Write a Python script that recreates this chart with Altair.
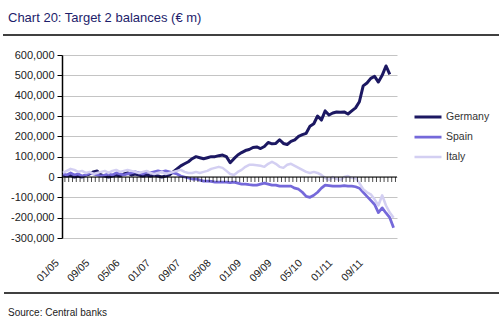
import altair as alt
import pandas as pd

title_text = "Chart 20: Target 2 balances (\u20ac m)"
source_text = "Source: Central banks"

series_names = ["Germany", "Spain", "Italy"]
series_colors = ["#1c1862", "#7569da", "#d3cff2"]
series_widths = [3, 2.5, 2.5]

tick_labels = ["01/05", "09/05", "05/06", "01/07", "09/07", "05/08",
               "01/09", "09/09", "05/10", "01/11", "09/11"]
y_ticks = [-300000, -200000, -100000, 0, 100000, 200000, 300000, 400000, 500000, 600000]

# monthly values, thousands of EUR m, Jan 2005 onward
germany = [10, 5, 8, 0, 5, 0, 10, 15, 25, 30,
           10, 5, 0, 5, 10, 5, 15, 20, 10, 15,
           10, 5, 10, 5, 10, 5, 0, 5, 10, 25,
           40, 55, 65, 75, 90, 100, 95, 90, 95, 100,
           100, 105, 108, 100, 70, 90, 108, 120, 130, 135,
           145, 148, 140, 150, 170, 163, 165, 183, 165, 160,
           175, 183, 200, 208, 215, 250, 262, 300, 280, 325,
           305, 315, 320, 318, 320, 310, 325, 340, 370, 448,
           462, 485, 495, 467, 500, 546, 505, None]
spain = [15, 10, 20, 10, 15, 5, 10, 20, 15, 10,
         5, 10, 15, 10, 20, 15, 10, 15, 20, 25,
         20, 15, 25, 20, 25, 30, 25, 30, 25, 20,
         15, 5, 0, -5, -10, -10, -15, -20, -20, -22,
         -25, -25, -25, -25, -28, -25, -30, -35, -35, -38,
         -40, -40, -35, -30, -35, -40, -40, -45, -45, -45,
         -45, -55, -60, -75, -95, -100, -90, -75, -55, -40,
         -42, -45, -45, -45, -42, -45, -45, -48, -55, -75,
         -95, -115, -135, -175, -152, -177, -200, -250]
italy = [20, 30, 40, 35, 25, 30, 20, 25, 15, 20,
         25, 30, 20, 30, 35, 25, 30, 35, 30, 25,
         20, 25, 30, 20, 15, 20, 25, 15, 20, 25,
         30, 35, 25, 20, 20, 25, 20, 25, 30, 40,
         45, 50, 45, 30, 15, 10, 25, 35, 50, 60,
         60, 58, 55, 50, 65, 75, 65, 50, 45, 60,
         65, 55, 45, 35, 25, 20, 25, 20, 10, -5,
         -15, 0, -10, -15, 0, 5, -5, -5, -30, -60,
         -75, -85, -110, -140, -90, -140, -175, -200]

rows = []
for name, vals in zip(series_names, [germany, spain, italy]):
    for i, v in enumerate(vals):
        if v is not None:
            rows.append({"month": i, "series": name, "value": v * 1000,
                         "order": series_names.index(name)})
df = pd.DataFrame(rows)
months_df = pd.DataFrame({"month": list(range(len(spain)))})

W, H = 335, 183
x_scale = alt.Scale(domain=[-0.26, 87.9], nice=False, zero=False)
y_scale = alt.Scale(domain=[-300000, 600000], nice=False)

label_arr = "[" + ",".join("'" + t + "'" for t in tick_labels) + "]"

x_axis = alt.Axis(values=[8 * k for k in range(len(tick_labels))],
                  labelExpr=label_arr + "[round(datum.value/8)]",
                  title=None, domain=False, ticks=False, grid=False,
                  labelAngle=-45, labelAlign="right", labelBaseline="middle",
                  labelPadding=23, labelOffset=-6, labelFontSize=10.5,
                  labelOverlap=False, labelBound=False, labelFlush=False,
                  labelColor="#222", labelFont="Liberation Sans")
y_axis = alt.Axis(values=y_ticks, title=None, grid=True, gridColor="#c4c4c4",
                  gridWidth=1, domainColor="#000", domainWidth=1.5,
                  tickColor="#000", tickSize=5, labelPadding=3,
                  labelOverlap=False, labelBound=False, labelFlush=False,
                  labelExpr="replace(format(datum.value, ','), '\u2212', '-')",
                  labelFontSize=11, labelColor="#222",
                  labelFont="Liberation Sans")

lines = alt.Chart(df).mark_line(strokeJoin="round").encode(
    x=alt.X("month:Q", scale=x_scale, axis=x_axis),
    y=alt.Y("value:Q", scale=y_scale, axis=y_axis),
    color=alt.Color("series:N",
                    scale=alt.Scale(domain=series_names, range=series_colors),
                    legend=alt.Legend(title=None, orient="none", legendX=351,
                                      legendY=55, symbolType="stroke",
                                      symbolSize=729, symbolStrokeWidth=3,
                                      labelFontSize=10.5, labelColor="#333",
                                      labelFont="Liberation Sans", rowPadding=6,
                                      clipHeight=14, labelOffset=3)),
    strokeWidth=alt.StrokeWidth("series:N",
                                scale=alt.Scale(domain=series_names, range=series_widths),
                                legend=None),
    order=alt.Order("order:Q"),
)

zero_line = alt.Chart(months_df).mark_rule(color="#000", strokeWidth=1.2).encode(
    y=alt.Y("value:Q", scale=y_scale, axis=y_axis),
).transform_calculate(value="0").transform_filter("datum.month == 0")

month_ticks = alt.Chart(months_df).mark_tick(
    color="#000", orient="vertical", size=5, thickness=1, yOffset=2.5
).encode(
    x=alt.X("month:Q", scale=x_scale, axis=x_axis),
    y=alt.Y("value:Q", scale=y_scale, axis=y_axis),
).transform_calculate(value="0", month="datum.month + 0.5")

text_df = pd.DataFrame({"t": [title_text]})
title_mark = alt.Chart(text_df).mark_text(
    align="left", baseline="alphabetic", fontSize=13, color="#1d1d6b",
    font="Liberation Sans"
).encode(text="t:N", x=alt.value(-54), y=alt.value(-33))

src_df = pd.DataFrame({"t": [source_text]})
source_mark = alt.Chart(src_df).mark_text(
    align="left", baseline="alphabetic", fontSize=10, color="#222",
    font="Liberation Sans"
).encode(text="t:N", x=alt.value(-54), y=alt.value(261))

top_rule = alt.Chart(text_df).mark_rule(color="#000", strokeWidth=1.5).encode(
    x=alt.value(-59), x2=alt.value(437), y=alt.value(-20))
bottom_rule = alt.Chart(text_df).mark_rule(color="#000", strokeWidth=1.5).encode(
    x=alt.value(-58), x2=alt.value(437), y=alt.value(238))

chart = alt.layer(
    lines, zero_line, month_ticks, title_mark, source_mark, top_rule, bottom_rule
).properties(
    width=W, height=H,
    autosize=alt.AutoSizeParams(type="none"),
    padding={"left": 62, "top": 55, "right": 103, "bottom": 93},
    background="white",
).configure_view(stroke=None)

chart.save("out.html", embed_options={"renderer": "svg", "actions": False})
